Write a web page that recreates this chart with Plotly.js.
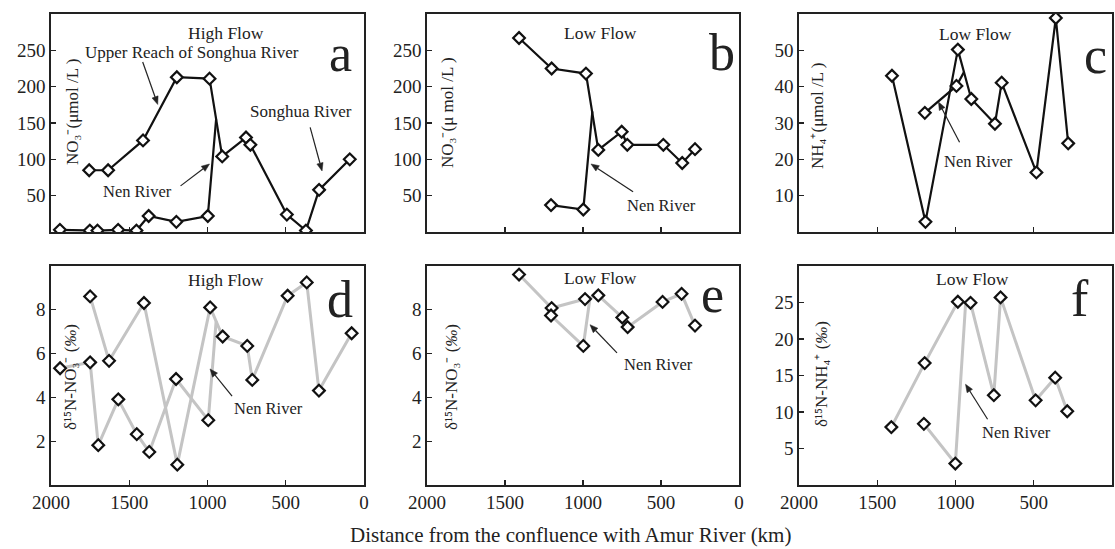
<!DOCTYPE html>
<html>
<head>
<meta charset="utf-8">
<script src="https://cdn.plot.ly/plotly-3.0.1.min.js"></script>
<style>
html,body{margin:0;padding:0;background:#fff;}
#chart{width:1115px;height:549px;}
</style>
</head>
<body>
<div id="chart"></div>
<script>
// ---------- DATA (distance from confluence with Amur River, km) ----------
// Panel a: NO3- high flow (umol/L)
const aMainDist = [1756, 1635, 1412, 1196, 987, 906, 754, 726, 493, 371, 287, 91];
const aMainVal  = [85, 85, 126, 213, 211, 104, 130, 120, 24, 2, 58, 100];
const aNenDist  = [1943, 1752, 1703, 1571, 1454, 1376, 1199, 998];
const aNenVal   = [3, 2, 2, 3, 2, 22, 14, 22];
const aJoinDist = [945];
const aJoinVal  = [155];
// Panel b: NO3- low flow
const bMainDist = [1410, 1201, 981, 902, 752, 716, 485, 364, 282];
const bMainVal  = [267, 225, 218, 113, 138, 120, 120, 95, 114];
const bNenDist  = [1205, 998];
const bNenVal   = [37, 31];
const bJoinDist = [940];
const bJoinVal  = [166];
// Panel c: NH4+ low flow
const cMainDist = [1406, 1192, 985, 899, 748, 705, 483, 359, 280];
const cMainVal  = [43, 2.8, 50.2, 36.6, 29.8, 41.1, 16.4, 58.9, 24.4];
const cNenDist  = [1196, 994];
const cNenVal   = [32.8, 40.2];
const cJoinDist = [946];
const cJoinVal  = [44];
// Panel d: d15N-NO3- high flow (permil)
const dMainDist = [1750, 1629, 1406, 1193, 983, 903, 746, 714, 488, 366, 288, 79];
const dMainVal  = [8.61, 5.67, 8.31, 0.93, 8.11, 6.78, 6.35, 4.80, 8.64, 9.25, 4.31, 6.93];
const dNenDist  = [1942, 1750, 1698, 1570, 1452, 1372, 1201, 995];
const dNenVal   = [5.33, 5.60, 1.82, 3.91, 2.32, 1.51, 4.84, 2.96];
const dJoinDist = [945];
const dJoinVal  = [7.47];
// Panel e: d15N-NO3- low flow
const eMainDist = [1410, 1201, 987, 902, 748, 714, 490, 368, 282];
const eMainVal  = [9.61, 8.08, 8.49, 8.66, 7.65, 7.21, 8.36, 8.73, 7.28];
const eNenDist  = [1205, 998];
const eNenVal   = [7.74, 6.35];
const eJoinDist = [955];
const eJoinVal  = [8.55];
// Panel f: d15N-NH4+ low flow
const fMainDist = [1410, 1197, 985, 904, 755, 712, 488, 363, 286];
const fMainVal  = [7.93, 16.7, 25.1, 24.96, 12.3, 25.7, 11.6, 14.7, 10.1];
const fNenDist  = [1202, 1001];
const fNenVal   = [8.38, 2.94];
const fJoinDist = [935];
const fJoinVal  = [25.0];

const xTicks = [2000, 1500, 1000, 500, 0];
const yTicksNO3 = [50, 100, 150, 200, 250];
const yTicksNH4 = [10, 20, 30, 40, 50];
const yTicksD15NO3 = [2, 4, 6, 8];
const yTicksD15NH4 = [5, 10, 15, 20, 25];

const panelLetters = ['a', 'b', 'c', 'd', 'e', 'f'];
const flowLabels = ['High Flow', 'Low Flow', 'Low Flow', 'High Flow', 'Low Flow', 'Low Flow'];
const yTitles = [
  'NO₃⁻(μmol /L )',
  'NO₃⁻(μ mol /L )',
  'NH₄⁺(μmol /L )',
  'δ¹⁵N-NO₃⁻ (<i>‰</i>)',
  'δ¹⁵N-NO₃⁻ (<i>‰</i>)',
  'δ¹⁵N-NH₄⁺ (<i>‰</i>)'
];
const xTitle = 'Distance from the confluence with Amur River (km)';

// ---------- LAYOUT HELPERS ----------
const W = 1115, H = 549;
const FONT = 'Liberation Serif, Times New Roman, serif';
const colsPx = [[51, 364], [427, 739], [799, 1112]];
const rowsPx = [[14, 232], [266, 485]];
const XR = [2000, 0];

const panels = [
  {main:[aMainDist,aMainVal], nen:[aNenDist,aNenVal], join:[aJoinDist,aJoinVal], yr:[0,300], yt:yTicksNO3, color:'#111', lw:2.2},
  {main:[bMainDist,bMainVal], nen:[bNenDist,bNenVal], join:[bJoinDist,bJoinVal], yr:[0,300], yt:yTicksNO3, color:'#111', lw:2.2},
  {main:[cMainDist,cMainVal], nen:[cNenDist,cNenVal], join:[cJoinDist,cJoinVal], yr:[0,60], yt:yTicksNH4, color:'#111', lw:2.2},
  {main:[dMainDist,dMainVal], nen:[dNenDist,dNenVal], join:[dJoinDist,dJoinVal], yr:[0,10], yt:yTicksD15NO3, color:'#c4c4c4', lw:3},
  {main:[eMainDist,eMainVal], nen:[eNenDist,eNenVal], join:[eJoinDist,eJoinVal], yr:[0,10], yt:yTicksD15NO3, color:'#c4c4c4', lw:3},
  {main:[fMainDist,fMainVal], nen:[fNenDist,fNenVal], join:[fJoinDist,fJoinVal], yr:[0,30], yt:yTicksD15NH4, color:'#c4c4c4', lw:3}
];

// annotation positions in data coords per panel
const annot = [
  {flow:[885,274], letter:[147,245], nen:[1446,55.3], arrow:[[1172,63.5],[987,93.6]],
   extra:[{t:'Upper Reach of Songhua River', p:[1102,246.6]}, {t:'Songhua River', p:[401,166]}],
   extraArrows:[[[1414,234],[1318,175.5]], [[344,144],[268,84]]]},
  {flow:[885,274], letter:[109,247], nen:[500,36.2], arrow:[[679,55.3],[949,93.6]], extra:[], extraArrows:[]},
  {flow:[872,54.6], letter:[103,48.6], nen:[853,19.3], arrow:[[974,24.7],[1109,35.8]], extra:[], extraArrows:[]},
  {flow:[882,9.37], letter:[153,8.45], nen:[613,3.51], arrow:[[843,4.06],[984,5.3]], extra:[], extraArrows:[]},
  {flow:[885,9.47], letter:[167,8.7], nen:[519,5.48], arrow:[[782,6.03],[955,7.32]], extra:[], extraArrows:[]},
  {flow:[891,28.2], letter:[207,25.5], nen:[610,7.24], arrow:[[795,9.0],[936,13.8]], extra:[], extraArrows:[]}
];
const yTitlePx = [[72,112],[448,113],[818,116],[70,377],[451,377],[821,374]];

const traces = [];
const layout = {
  width: W, height: H,
  margin: {l:0, r:0, t:0, b:0},
  paper_bgcolor: '#fff', plot_bgcolor: '#fff',
  showlegend: false,
  font: {family: FONT, size: 18, color: '#222'},
  annotations: [],
  shapes: []
};

panels.forEach((p, i) => {
  const n = i + 1;
  const xa = n === 1 ? 'x' : 'x' + n;
  const ya = n === 1 ? 'y' : 'y' + n;
  const col = colsPx[i % 3], row = rowsPx[Math.floor(i / 3)];
  const bottom = i >= 3;
  // pixel <-> data helpers for arrowhead geometry
  const toPx = (d, v) => [col[0] + (XR[0] - d) / (XR[0] - XR[1]) * (col[1] - col[0]),
                          row[1] - (v - p.yr[0]) / (p.yr[1] - p.yr[0]) * (row[1] - row[0])];
  const toData = (px, py) => [XR[0] - (px - col[0]) / (col[1] - col[0]) * (XR[0] - XR[1]),
                              p.yr[0] + (row[1] - py) / (row[1] - row[0]) * (p.yr[1] - p.yr[0])];

  layout[n === 1 ? 'xaxis' : 'xaxis' + n] = {
    domain: [col[0] / W, col[1] / W], anchor: ya,
    range: XR, tickvals: xTicks, ticks: 'inside', ticklen: 5, tickwidth: 1.3, tickcolor: '#222',
    showticklabels: bottom, tickfont: {family: FONT, size: 19, color: '#222'},
    showline: true, mirror: true, linecolor: '#222', linewidth: 1.6,
    showgrid: false, zeroline: false, fixedrange: true
  };
  layout[n === 1 ? 'yaxis' : 'yaxis' + n] = {
    domain: [1 - row[1] / H, 1 - row[0] / H], anchor: xa,
    range: p.yr, tickvals: p.yt, ticks: 'inside', ticklen: 5, tickwidth: 1.3, tickcolor: '#222',
    tickfont: {family: FONT, size: 19, color: '#222'},
    showline: true, mirror: true, linecolor: '#222', linewidth: 1.6,
    showgrid: false, zeroline: false, fixedrange: true
  };
  // lines
  traces.push({x: p.main[0], y: p.main[1], xaxis: xa, yaxis: ya, mode: 'lines',
    line: {color: p.color, width: p.lw}, hoverinfo: 'skip'});
  traces.push({x: p.nen[0].concat(p.join[0]), y: p.nen[1].concat(p.join[1]), xaxis: xa, yaxis: ya, mode: 'lines',
    line: {color: p.color, width: p.lw}, hoverinfo: 'skip'});
  // markers
  const mk = {symbol: 'diamond', size: 9, color: '#fff', line: {color: '#111', width: 2.2}};
  traces.push({x: p.main[0], y: p.main[1], xaxis: xa, yaxis: ya, mode: 'markers', marker: mk});
  traces.push({x: p.nen[0], y: p.nen[1], xaxis: xa, yaxis: ya, mode: 'markers', marker: mk});

  const A = annot[i];
  const txt = (t, pos, size) => ({text: t, x: pos[0], y: pos[1], xref: xa, yref: ya, showarrow: false,
    font: {family: FONT, size: size, color: '#222'}, xanchor: 'center', yanchor: 'middle'});
  layout.annotations.push(txt(flowLabels[i], A.flow, 17.5));
  layout.annotations.push(txt(panelLetters[i], A.letter, 52));
  layout.annotations.push(txt('Nen River', A.nen, 16.5));
  A.extra.forEach(e => layout.annotations.push(txt(e.t, e.p, 17)));

  // arrows drawn as shapes: a line plus a filled triangular head
  const arrow = (tail, head) => {
    const t = toPx(tail[0], tail[1]), h = toPx(head[0], head[1]);
    const dx = h[0] - t[0], dy = h[1] - t[1], L = Math.hypot(dx, dy);
    const ux = dx / L, uy = dy / L, nx = -uy, ny = ux;
    const hl = 8, hw = 3.2;
    const b = [h[0] - ux * hl, h[1] - uy * hl];
    const c1 = toData(b[0] + nx * hw, b[1] + ny * hw);
    const c2 = toData(b[0] - nx * hw, b[1] - ny * hw);
    const bd = toData(b[0], b[1]);
    layout.shapes.push({type: 'line', xref: xa, yref: ya, x0: tail[0], y0: tail[1], x1: bd[0], y1: bd[1],
      line: {color: '#222', width: 1.2}});
    layout.shapes.push({type: 'path', xref: xa, yref: ya,
      path: `M ${head[0]} ${head[1]} L ${c1[0]} ${c1[1]} L ${c2[0]} ${c2[1]} Z`,
      fillcolor: '#222', line: {color: '#222', width: 0.5}});
  };
  arrow(A.arrow[0], A.arrow[1]);
  A.extraArrows.forEach(a => arrow(a[0], a[1]));

  // y-axis title inside plot
  layout.annotations.push({text: yTitles[i], x: yTitlePx[i][0] / W, y: 1 - yTitlePx[i][1] / H,
    xref: 'paper', yref: 'paper', showarrow: false, textangle: -90,
    font: {family: FONT, size: 17, color: '#222'}, xanchor: 'center', yanchor: 'middle'});
});

layout.annotations.push({text: xTitle, x: 570 / W, y: 1 / H, xref: 'paper', yref: 'paper',
  showarrow: false, font: {family: FONT, size: 21, color: '#222'}, xanchor: 'center', yanchor: 'bottom',
  borderpad: 0});

Plotly.newPlot('chart', traces, layout, {displayModeBar: false, staticPlot: true});
</script>
</body>
</html>
